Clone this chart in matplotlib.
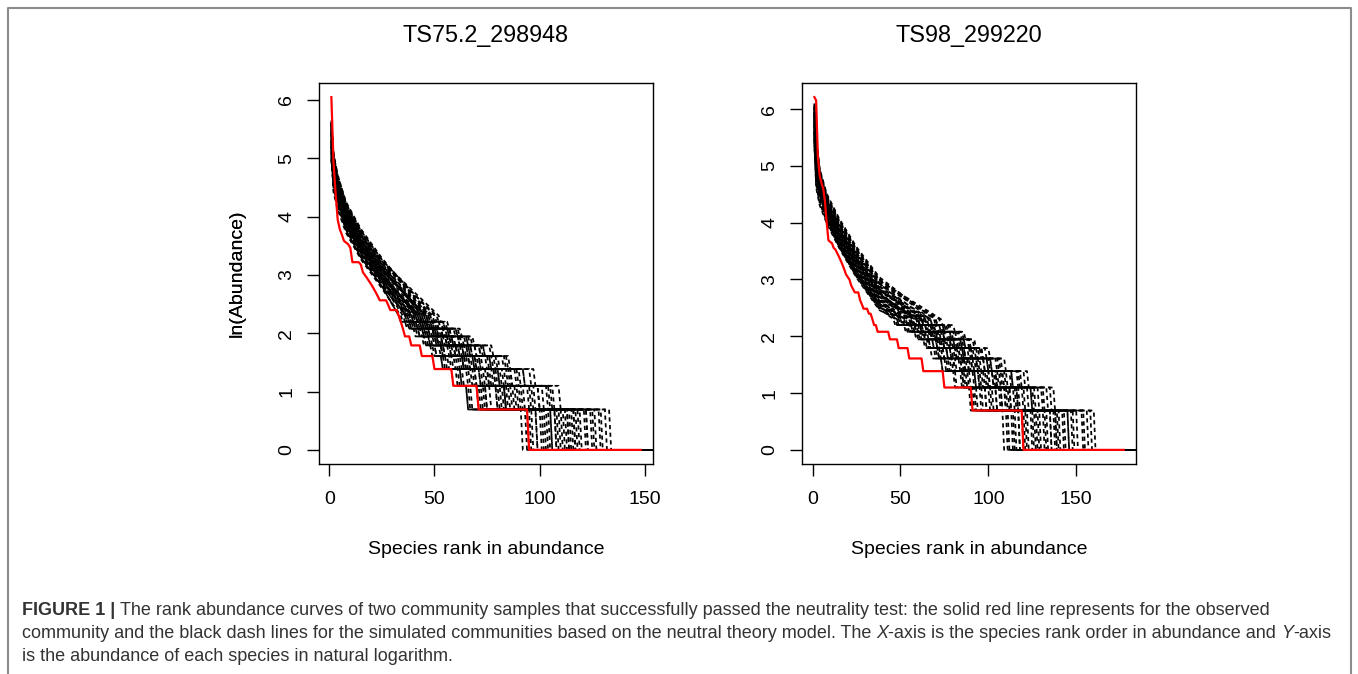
import numpy as np
import matplotlib.pyplot as plt
from matplotlib.lines import Line2D
from matplotlib.transforms import IdentityTransform

plt.rcParams['font.family'] = ['Liberation Sans', 'DejaVu Sans']

titles = ['TS75.2_298948', 'TS98_299220']
x_label = 'Species rank in abundance'
y_label = 'ln(Abundance)'
x_ticks = [0, 50, 100, 150]
y_ticks = [0, 1, 2, 3, 4, 5, 6]

# observed communities: abundance of each species in rank order
obs_1 = ([424, 140, 82, 52, 44, 40, 36, 35, 34, 32,
          25, 25, 25, 25, 24, 21, 20, 19, 18, 17,
          16, 15, 14, 13, 13, 13, 13, 12, 11, 11,
          11, 11, 10, 9, 8]
         + [7] * 3 + [6] * 5 + [5] * 6 + [4] * 9 + [3] * 12 + [2] * 24 + [1] * 54)
obs_2 = ([498, 470, 174, 125, 110, 100, 80, 55, 40, 39,
          38, 35, 34, 32, 30, 28, 26, 24, 22, 21,
          20, 18, 17, 16, 16, 16, 14, 13, 12, 12,
          12, 11, 11, 10, 9, 9]
         + [8] * 7 + [7] * 5 + [6] * 6 + [5] * 8 + [4] * 12 + [3] * 16 + [2] * 29 + [1] * 58)

# simulated communities (neutral model)
# top part: ln(abundance) at the ranks in sim_top_ranks
# ends: last rank holding abundance 10, 9, 8, 7, 6, 5, 4, 3, 2 ; rich: richness
end_levels = [10, 9, 8, 7, 6, 5, 4, 3, 2]

sim_top_ranks_1 = [1, 2, 4, 8, 15, 25]
sim_top_1 = [
    [5.02, 4.62, 4.30, 3.77, 3.30, 2.80], [5.21, 4.70, 4.31, 3.85, 3.35, 2.86],
    [5.10, 4.75, 4.38, 3.90, 3.37, 2.92], [5.30, 4.80, 4.40, 3.92, 3.45, 2.95],
    [5.20, 4.85, 4.47, 3.97, 3.52, 2.99], [5.45, 4.87, 4.49, 4.05, 3.54, 3.06],
    [5.35, 4.95, 4.55, 4.07, 3.60, 3.10], [5.55, 4.97, 4.60, 4.12, 3.67, 3.15],
    [5.50, 5.04, 4.64, 4.17, 3.71, 3.23], [5.62, 5.08, 4.67, 4.22, 3.76, 3.26],
    [4.95, 4.66, 4.29, 3.81, 3.31, 2.82], [5.15, 4.71, 4.33, 3.86, 3.38, 2.88],
    [5.05, 4.76, 4.40, 3.91, 3.41, 2.93], [5.25, 4.81, 4.42, 3.96, 3.48, 2.97],
    [5.40, 4.84, 4.46, 4.01, 3.52, 3.02], [5.28, 4.91, 4.53, 4.04, 3.58, 3.08],
    [5.48, 4.96, 4.56, 4.11, 3.63, 3.13], [5.60, 5.01, 4.62, 4.16, 3.70, 3.19],
    [5.52, 5.06, 4.65, 4.20, 3.74, 3.24], [5.65, 5.10, 4.70, 4.25, 3.79, 3.29],
    [5.18, 4.86, 4.47, 3.99, 3.51, 3.01], [5.12, 4.78, 4.41, 3.94, 3.44, 2.95],
    [5.42, 4.92, 4.55, 4.09, 3.61, 3.11], [5.38, 4.99, 4.61, 4.14, 3.68, 3.18],
    [5.00, 4.42, 4.12, 3.72, 3.27, 2.77], [5.25, 4.47, 4.16, 3.75, 3.30, 2.80],
    [5.08, 4.50, 4.18, 3.77, 3.31, 2.81], [5.34, 4.54, 4.22, 3.80, 3.35, 2.85],
    [4.98, 4.56, 4.24, 3.83, 3.37, 2.87], [5.44, 4.61, 4.28, 3.86, 3.40, 2.90],
    [5.14, 4.63, 4.31, 3.88, 3.43, 2.93], [5.58, 4.68, 4.35, 3.92, 3.46, 2.96],
    [5.22, 4.70, 4.37, 3.94, 3.48, 2.98], [5.32, 4.74, 4.41, 3.97, 3.51, 3.01],
    [5.50, 4.77, 4.44, 4.00, 3.54, 3.04], [5.30, 4.81, 4.48, 4.03, 3.57, 3.07],
    [5.63, 4.84, 4.50, 4.05, 3.59, 3.09], [5.44, 4.90, 4.57, 4.11, 3.65, 3.15],
    [5.57, 4.98, 4.63, 4.17, 3.70, 3.20], [5.60, 5.05, 4.72, 4.22, 3.76, 3.26],
]
sim_ends_1 = [
    [33, 37, 40, 45, 48, 53, 58, 65, 91], [35, 37, 42, 45, 50, 54, 61, 66, 94],
    [38, 43, 47, 50, 57, 63, 69, 79, 103], [37, 40, 45, 49, 53, 59, 67, 72, 100],
    [43, 46, 50, 56, 63, 67, 78, 85, 113], [41, 45, 49, 53, 61, 65, 73, 83, 107],
    [46, 49, 56, 61, 67, 76, 84, 96, 119], [44, 48, 54, 57, 65, 71, 82, 90, 117],
    [49, 54, 60, 67, 73, 83, 92, 105, 128], [47, 52, 57, 64, 71, 79, 88, 101, 124],
    [37, 41, 46, 51, 54, 61, 68, 74, 102], [40, 44, 48, 53, 58, 63, 72, 81, 105],
    [36, 39, 44, 47, 53, 57, 63, 71, 98], [43, 47, 51, 58, 63, 70, 80, 88, 115],
    [42, 45, 51, 55, 60, 68, 75, 84, 110], [47, 51, 57, 62, 69, 77, 86, 99, 122],
    [44, 46, 53, 56, 64, 69, 79, 89, 114], [51, 55, 61, 66, 76, 84, 95, 106, 131],
    [52, 56, 62, 68, 77, 85, 97, 109, 133], [48, 53, 59, 65, 72, 80, 90, 103, 126],
    [39, 43, 49, 52, 59, 64, 71, 80, 107], [41, 46, 50, 55, 61, 66, 77, 83, 111],
    [45, 49, 54, 59, 66, 74, 83, 94, 118], [45, 48, 53, 58, 66, 72, 81, 92, 116],
    [34, 38, 42, 46, 50, 55, 62, 67, 95], [37, 40, 44, 48, 53, 58, 65, 73, 98],
    [33, 36, 41, 44, 49, 53, 60, 65, 93], [39, 42, 46, 51, 56, 62, 69, 76, 104],
    [36, 38, 43, 47, 52, 56, 62, 70, 96], [40, 44, 49, 53, 59, 64, 74, 82, 108],
    [38, 41, 45, 50, 54, 60, 66, 74, 101], [42, 46, 52, 56, 62, 68, 76, 86, 112],
    [39, 43, 47, 51, 57, 63, 71, 79, 105], [43, 48, 53, 58, 65, 71, 80, 91, 116],
    [41, 45, 49, 54, 60, 66, 75, 83, 109], [46, 50, 55, 61, 67, 75, 85, 95, 121],
    [43, 47, 51, 57, 63, 69, 78, 87, 113], [48, 51, 57, 63, 71, 78, 89, 99, 125],
    [46, 50, 56, 62, 69, 76, 86, 97, 122], [50, 54, 60, 65, 73, 82, 92, 104, 129],
]
sim_rich_1 = [158, 165, 160, 171, 156, 168, 162, 175, 159, 166, 170, 157,
              163, 169, 161, 174, 158, 167, 172, 160, 164, 156, 170, 162,
              163, 158, 170, 161, 166, 157, 173, 160, 164, 169, 159, 171,
              162, 168, 156, 165]

sim_top_ranks_2 = [1, 2, 4, 8, 15, 25, 38]
sim_top_2 = [
    [5.36, 4.98, 4.52, 4.06, 3.58, 3.05, 2.48], [5.52, 5.03, 4.57, 4.11, 3.63, 3.10, 2.54],
    [5.45, 5.09, 4.61, 4.16, 3.68, 3.16, 2.60], [5.70, 5.14, 4.66, 4.20, 3.74, 3.21, 2.66],
    [5.60, 5.20, 4.70, 4.25, 3.79, 3.27, 2.72], [5.85, 5.25, 4.75, 4.30, 3.84, 3.32, 2.77],
    [5.75, 5.31, 4.79, 4.35, 3.89, 3.38, 2.83], [5.95, 5.36, 4.84, 4.39, 3.95, 3.43, 2.89],
    [5.90, 5.42, 4.88, 4.44, 4.00, 3.49, 2.95], [6.08, 5.47, 4.93, 4.49, 4.05, 3.54, 3.01],
    [5.30, 5.01, 4.55, 4.09, 3.60, 3.08, 2.51], [5.58, 5.06, 4.59, 4.13, 3.66, 3.13, 2.57],
    [5.48, 5.12, 4.64, 4.18, 3.71, 3.19, 2.63], [5.66, 5.17, 4.68, 4.23, 3.76, 3.24, 2.69],
    [5.80, 5.23, 4.73, 4.28, 3.82, 3.30, 2.75], [5.72, 5.28, 4.77, 4.32, 3.87, 3.35, 2.80],
    [5.98, 5.34, 4.82, 4.37, 3.92, 3.41, 2.86], [5.88, 5.39, 4.86, 4.42, 3.97, 3.46, 2.92],
    [6.04, 5.45, 4.91, 4.46, 4.03, 3.52, 2.98], [6.10, 5.50, 4.95, 4.51, 4.08, 3.57, 3.04],
    [5.62, 5.22, 4.72, 4.27, 3.81, 3.29, 2.74], [5.55, 5.15, 4.66, 4.21, 3.73, 3.22, 2.65],
    [5.92, 5.30, 4.80, 4.34, 3.90, 3.37, 2.82], [5.78, 5.40, 4.87, 4.41, 3.98, 3.45, 2.93],
    [5.40, 4.62, 4.31, 3.99, 3.56, 3.03, 2.46], [5.62, 4.67, 4.35, 4.02, 3.59, 3.06, 2.50],
    [5.45, 4.71, 4.38, 4.04, 3.61, 3.09, 2.52], [5.75, 4.76, 4.42, 4.08, 3.65, 3.12, 2.56],
    [5.50, 4.80, 4.45, 4.10, 3.67, 3.14, 2.58], [5.85, 4.85, 4.49, 4.13, 3.70, 3.17, 2.62],
    [5.56, 4.89, 4.51, 4.15, 3.72, 3.20, 2.64], [5.95, 4.94, 4.55, 4.18, 3.75, 3.23, 2.67],
    [5.64, 4.98, 4.58, 4.20, 3.77, 3.25, 2.70], [5.90, 5.03, 4.62, 4.23, 3.80, 3.28, 2.73],
    [5.72, 5.07, 4.65, 4.26, 3.83, 3.31, 2.76], [6.02, 5.12, 4.69, 4.29, 3.86, 3.34, 2.79],
    [5.80, 5.16, 4.72, 4.31, 3.88, 3.36, 2.82], [5.95, 5.25, 4.78, 4.36, 3.93, 3.42, 2.87],
    [6.00, 5.34, 4.85, 4.41, 3.98, 3.47, 2.93], [6.06, 5.43, 4.92, 4.47, 4.04, 3.53, 2.99],
]
sim_ends_2 = [
    [46, 52, 58, 63, 67, 73, 80, 89, 108], [48, 55, 61, 65, 71, 76, 85, 93, 113],
    [54, 59, 67, 72, 76, 84, 92, 104, 122], [51, 58, 63, 70, 74, 80, 88, 98, 117],
    [60, 66, 71, 78, 85, 90, 102, 112, 135], [57, 62, 69, 74, 81, 87, 96, 109, 128],
    [64, 72, 78, 84, 90, 99, 108, 124, 145], [62, 68, 75, 81, 86, 95, 106, 117, 140],
    [70, 77, 84, 89, 96, 106, 118, 133, 156], [67, 74, 81, 86, 94, 101, 113, 128, 150],
    [53, 59, 65, 70, 76, 81, 91, 101, 120], [55, 62, 67, 74, 79, 85, 95, 106, 126],
    [50, 56, 62, 68, 72, 78, 86, 96, 115], [61, 67, 74, 79, 85, 93, 103, 116, 137],
    [58, 65, 70, 76, 82, 89, 99, 110, 131], [66, 73, 79, 85, 92, 100, 112, 125, 147],
    [60, 68, 73, 79, 86, 92, 104, 115, 138], [72, 78, 85, 91, 98, 107, 120, 135, 158],
    [73, 80, 86, 92, 100, 109, 122, 137, 160], [69, 75, 82, 88, 95, 104, 116, 130, 153],
    [56, 61, 68, 73, 78, 86, 94, 107, 125], [59, 64, 71, 77, 83, 88, 100, 111, 132],
    [63, 70, 76, 82, 89, 97, 107, 120, 142], [62, 69, 74, 80, 88, 94, 105, 119, 139],
    [48, 54, 60, 66, 70, 75, 84, 92, 111], [51, 57, 63, 68, 73, 79, 87, 98, 117],
    [47, 53, 59, 64, 69, 73, 81, 91, 110], [53, 60, 66, 71, 76, 83, 92, 102, 121],
    [49, 56, 61, 66, 71, 77, 85, 95, 114], [56, 62, 69, 74, 80, 86, 97, 107, 127],
    [52, 58, 64, 70, 74, 80, 89, 100, 119], [59, 66, 71, 77, 83, 90, 100, 112, 133],
    [55, 61, 67, 72, 78, 84, 94, 104, 124], [62, 68, 74, 80, 86, 93, 104, 116, 138],
    [57, 64, 70, 75, 81, 88, 98, 109, 129], [64, 71, 77, 83, 90, 97, 109, 122, 143],
    [60, 67, 72, 78, 84, 91, 102, 114, 135], [67, 74, 80, 86, 93, 101, 113, 126, 148],
    [65, 72, 78, 84, 91, 99, 110, 124, 145], [70, 76, 83, 89, 96, 105, 117, 131, 154],
]
sim_rich_2 = [186, 192, 188, 199, 185, 195, 190, 203, 187, 196, 200, 185,
              191, 198, 189, 202, 186, 194, 201, 188, 193, 185, 199, 190,
              192, 187, 199, 190, 195, 186, 201, 189, 194, 198, 188, 200,
              191, 197, 185, 193]

caption_1 = [('FIGURE 1 |', 'bold'), (' ', None),
             ('The rank abundance curves of two community samples that successfully passed the '
              'neutrality test: the solid red line represents for the observed', 'normal')]
caption_2 = [('community and the black dash lines for the simulated communities based on the '
              'neutral theory model. The', 'normal'), (' ', None), ('X', 'italic'),
             ('-axis is the species rank order in abundance and', 'normal'), (' ', None),
             ('Y', 'italic'), ('-axis', 'normal')]
caption_3 = [('is the abundance of each species in natural logarithm.', 'normal')]


def sim_curve(top_ranks, top, ends, rich):
    xs = list(top_ranks)
    ys = list(top)
    prev = None
    for k, e in zip(end_levels, ends):
        start = e if prev is None else prev + 1
        xs += [start, e]
        ys += [np.log(k), np.log(k)]
        prev = e
    xs += [prev + 1, rich]
    ys += [0, 0]
    return xs, ys


W, H = 1358, 674
fig = plt.figure(figsize=(W / 100, H / 100), dpi=100)

panels = [
    (obs_1, sim_top_ranks_1, sim_top_1, sim_ends_1, sim_rich_1, 319),
    (obs_2, sim_top_ranks_2, sim_top_2, sim_ends_2, sim_rich_2, 802),
]

for i, (obs, tr, tops, ends, rich, left_px) in enumerate(panels):
    ax = fig.add_axes([left_px / W, 1 - 464 / H, 334 / W, 381 / H])

    for top, e, s in zip(tops, ends, rich):
        xs, ys = sim_curve(tr, top, e, s)
        ax.plot(xs, ys, color='black', lw=1.25, linestyle=(0, (2.4, 2.0)))

    ranks = np.arange(1, len(obs) + 1)
    ln_obs = np.log(obs)
    ax.plot(ranks, ln_obs, color='#ff0000', lw=1.6, zorder=5)

    # R style axis limits (4% extension of the observed data range)
    n = len(obs)
    ax.set_xlim(1 - 0.04 * (n - 1), n + 0.04 * (n - 1))
    ymax = ln_obs.max()
    ax.set_ylim(-0.04 * ymax, ymax * 1.04)

    ax.set_xticks(x_ticks)
    ax.set_yticks(y_ticks)
    ax.set_yticklabels([str(v) for v in y_ticks], rotation=90, va='center')
    ax.tick_params(direction='out', length=8.6, width=1.0, labelsize=14, colors='black')
    ax.tick_params(axis='x', pad=10.5)
    ax.tick_params(axis='y', pad=8.5)
    for sp in ax.spines.values():
        sp.set_linewidth(1.0)

    ax.set_xlabel(x_label, fontsize=14, va='center')
    ax.xaxis.set_label_coords(0.5, (464 - 549) / 381)
    ax.set_ylabel(y_label, fontsize=14, va='center')
    ax.yaxis.set_label_coords((237 - left_px) / 334, 0.5)

    ax.text(0.5, (464 - 42) / 381, titles[i], transform=ax.transAxes,
            ha='center', va='baseline', fontsize=16.8)

# outer frame of the figure panel
frame = Line2D([7.5, 7.5, 1350.5, 1350.5], [0, H - 8, H - 8, 0],
               transform=IdentityTransform(), color='#8c8c8c', lw=1.5)
fig.add_artist(frame)

# caption
cap_fs = 13.0
cap_color = '#333333'
renderer = fig.canvas.get_renderer()
probe_a = fig.text(0, 0, 'aa', fontsize=cap_fs)
probe_b = fig.text(0, 0, 'a a', fontsize=cap_fs)
space_w = probe_b.get_window_extent(renderer).width - probe_a.get_window_extent(renderer).width
probe_a.remove()
probe_b.remove()


def caption_line(parts, y_top):
    x = 22
    for txt, style in parts:
        if style is None:
            x += space_w
            continue
        t = fig.text(x, H - y_top, txt, transform=IdentityTransform(),
                     fontsize=cap_fs, color=cap_color, va='baseline',
                     fontweight='bold' if style == 'bold' else 'normal',
                     fontstyle='italic' if style == 'italic' else 'normal')
        x += t.get_window_extent(renderer).width


caption_line(caption_1, 615)
caption_line(caption_2, 638)
caption_line(caption_3, 661)

fig.savefig('out.png', dpi=100)
